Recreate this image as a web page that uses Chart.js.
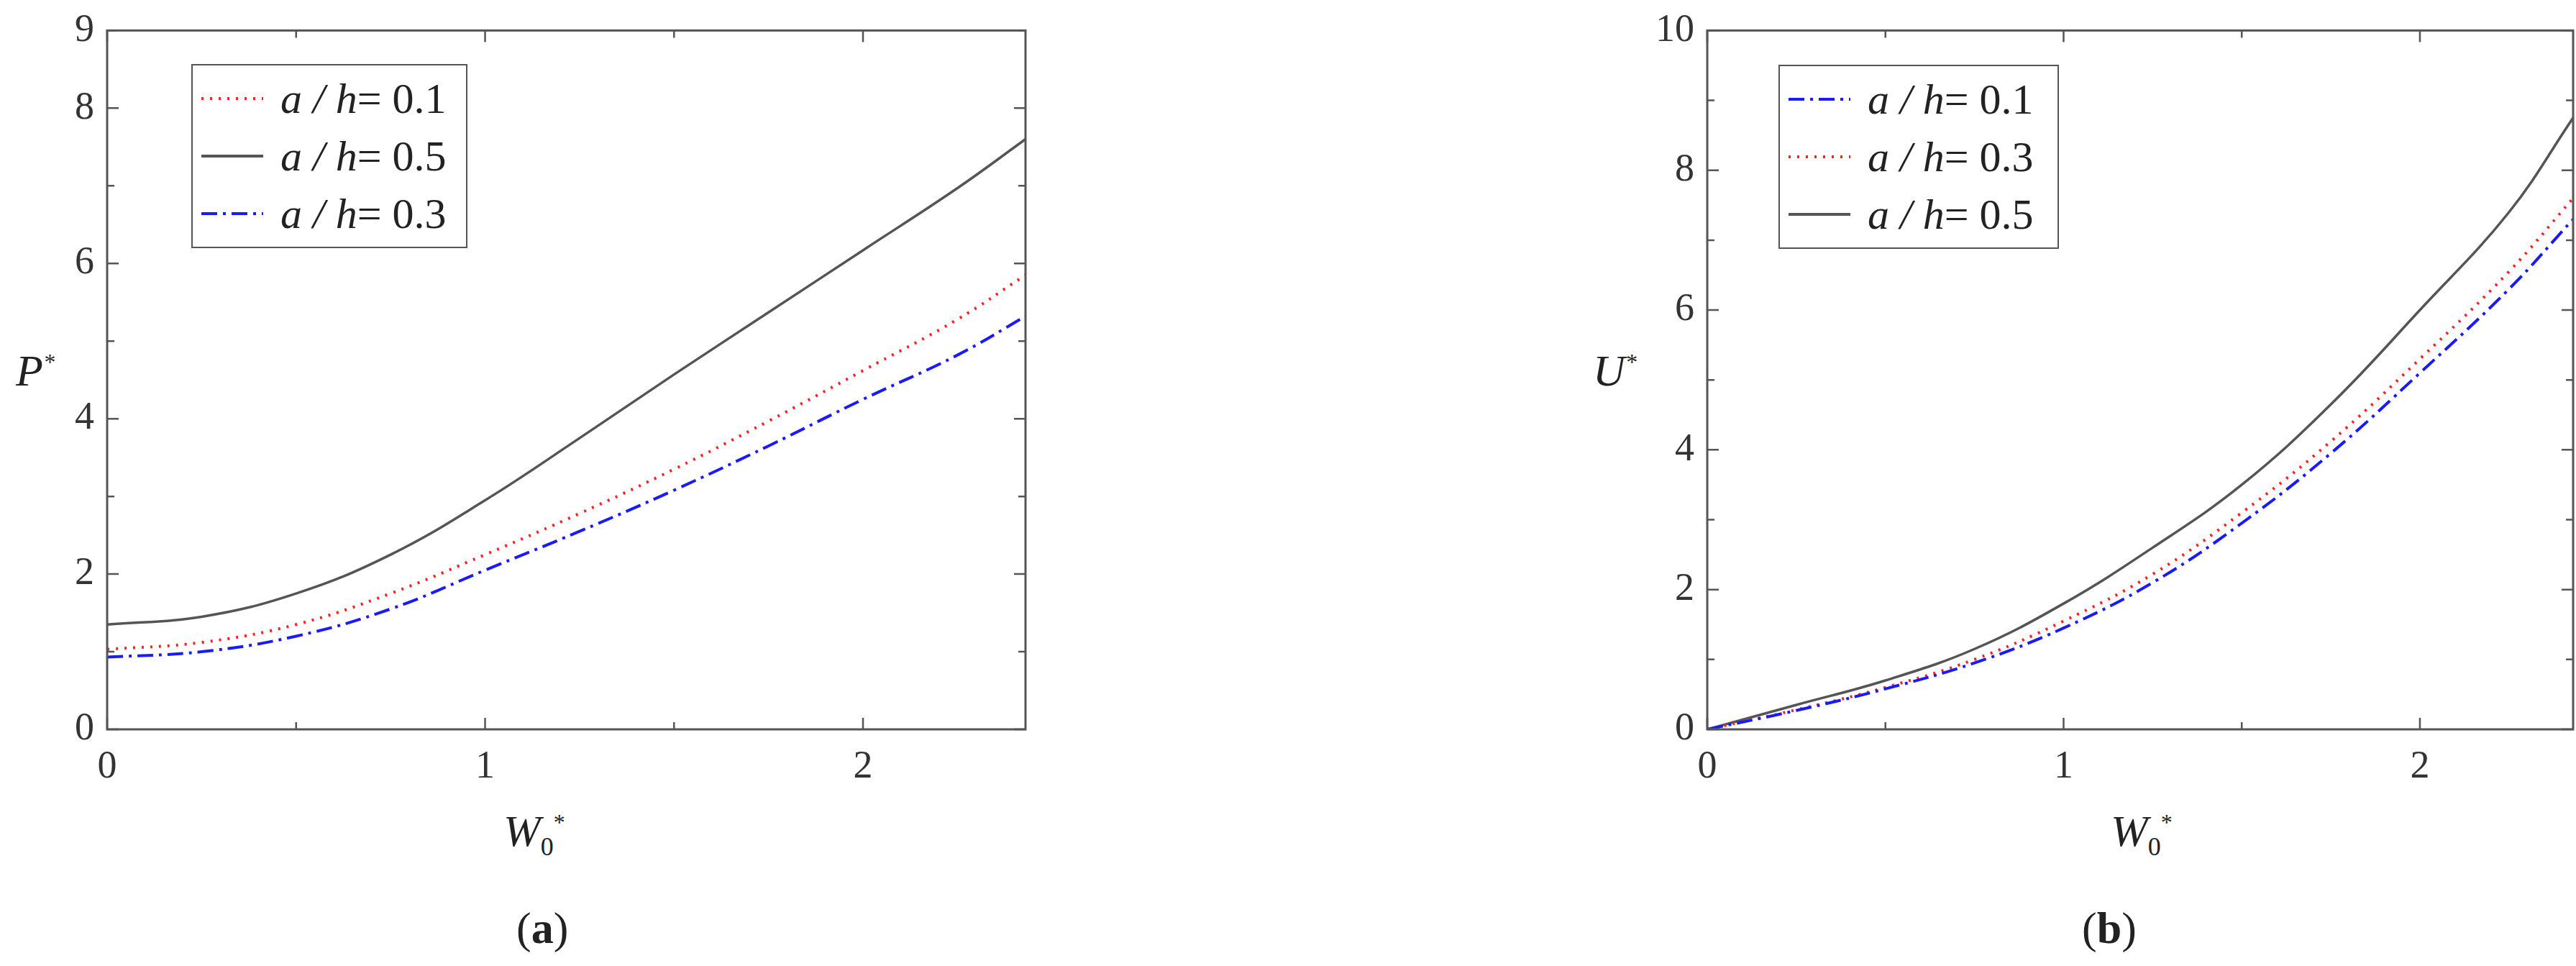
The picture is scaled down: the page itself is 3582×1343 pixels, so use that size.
<!DOCTYPE html>
<html>
<head>
<meta charset="utf-8">
<script src="https://cdn.jsdelivr.net/npm/chart.js@4"></script>
<style>
body { margin:0; width:3582px; height:1343px; background:#fff; position:relative; overflow:hidden; font-family:"Liberation Serif", serif; }
canvas { position:absolute; }
.t { position:absolute; font-family:"Liberation Serif", serif; color:#222; white-space:nowrap; }
.it { font-style:italic; }
.legend { position:absolute; border:2px solid #555; background:#fff; padding:6px 10px; }
.legend div { height:80px; display:flex; align-items:center; font-size:60px; font-style:italic; color:#222; }
.legend svg { margin-right:22px; }
</style>
</head>
<body>
<canvas id="chartA" style="left:60px;top:0;width:1400px;height:1100px"></canvas>
<canvas id="chartB" style="left:2285px;top:0;width:1297px;height:1100px"></canvas>

<div class="t it" style="left:22px;top:480px;font-size:62px">P<sup style="font-size:32px">*</sup></div>
<div class="t it" style="left:700px;top:1120px;font-size:62px">W<sub style="font-size:36px;font-style:normal">0</sub><sup style="font-size:32px;font-style:normal">*</sup></div>
<div class="t" style="left:718px;top:1255px;font-size:62px">(<b>a</b>)</div>

<div class="t it" style="left:2215px;top:480px;font-size:62px">U<sup style="font-size:32px">*</sup></div>
<div class="t it" style="left:2935px;top:1120px;font-size:62px">W<sub style="font-size:36px;font-style:normal">0</sub><sup style="font-size:32px;font-style:normal">*</sup></div>
<div class="t" style="left:2895px;top:1255px;font-size:62px">(<b>b</b>)</div>

<div class="legend" id="legA" style="left:266px;top:89px;width:360px"></div>
<div class="legend" id="legB" style="left:2473px;top:90px;width:366px"></div>

<script>
// W0* sample points (shared)
var w0 = [0, 0.25, 0.5, 0.75, 1.0, 1.25, 1.5, 1.75, 2.0, 2.25, 2.43];

// (a) P* values
var pA01 = [1.03, 1.12, 1.35, 1.75, 2.25, 2.78, 3.35, 3.97, 4.62, 5.28, 5.85];
var pA05 = [1.35, 1.45, 1.75, 2.25, 2.95, 3.75, 4.57, 5.37, 6.17, 6.97, 7.6];
var pA03 = [0.93, 1.0, 1.2, 1.55, 2.05, 2.55, 3.08, 3.65, 4.25, 4.82, 5.32];

// (b) U* values
var uB01 = [0, 0.27, 0.58, 0.95, 1.45, 2.1, 2.95, 3.95, 5.1, 6.3, 7.3];
var uB03 = [0, 0.28, 0.6, 1.0, 1.55, 2.22, 3.1, 4.12, 5.3, 6.55, 7.6];
var uB05 = [0, 0.35, 0.7, 1.15, 1.8, 2.6, 3.5, 4.65, 6.0, 7.4, 8.75];

var RED = '#ff2020', GRAY = '#555555', BLUE = '#1a1aff';
var DOT = [3, 9], DASHDOT = [22, 8, 4, 8];

function pts(ys) { return w0.map(function (x, i) { return { x: x, y: ys[i] }; }); }

function ds(label, ys, color, dash, w) {
    return { label: label, data: pts(ys), borderColor: color, borderDash: dash, borderWidth: w,
             pointRadius: 0, tension: 0.4, fill: false };
}

// inward ticks + frame
var framePlugin = {
    id: 'frame',
    afterDraw: function (chart) {
        var c = chart.ctx, a = chart.chartArea, sx = chart.scales.x, sy = chart.scales.y;
        c.save();
        c.strokeStyle = '#555'; c.lineWidth = 3; c.setLineDash([]);
        c.strokeRect(a.left, a.top, a.right - a.left, a.bottom - a.top);
        c.lineWidth = 2.5;
        for (var v = 0; v <= sx.max + 1e-9; v += 0.5) {
            var x = sx.getPixelForValue(v), L = (v % 1 === 0) ? 16 : 10;
            c.beginPath(); c.moveTo(x, a.bottom); c.lineTo(x, a.bottom - L);
            c.moveTo(x, a.top); c.lineTo(x, a.top + L); c.stroke();
        }
        var st = chart.options.minorY;
        for (var u = 0; u <= sy.max + 1e-9; u += st) {
            var y = sy.getPixelForValue(u), M = (Math.round(u / st) % 2 === 0) ? 16 : 10;
            c.beginPath(); c.moveTo(a.left, y); c.lineTo(a.left + M, y);
            c.moveTo(a.right, y); c.lineTo(a.right - M, y); c.stroke();
        }
        c.restore();
    }
};

function makeChart(id, datasets, ymax, minorY, yw, rightPad) {
    return new Chart(document.getElementById(id), {
        type: 'line',
        data: { datasets: datasets },
        plugins: [framePlugin],
        options: {
            responsive: false, animation: false, minorY: minorY,
            layout: { padding: { top: 33, right: rightPad } },
            plugins: { legend: { display: false }, tooltip: { enabled: false } },
            scales: {
                x: { type: 'linear', min: 0, max: 2.43, border: { display: false },
                     grid: { display: false },
                     afterBuildTicks: function (s) { s.ticks = [{ value: 0 }, { value: 1 }, { value: 2 }]; },
                     afterFit: function (s) { s.height = 86; },
                     ticks: { font: { family: 'Liberation Serif', size: 54 }, color: '#333', padding: 12 } },
                y: { min: 0, max: ymax, border: { display: false }, grid: { display: false },
                     afterFit: function (s) { s.width = yw; },
                     ticks: { stepSize: minorY * 2, font: { family: 'Liberation Serif', size: 54 }, color: '#333', padding: 10 } }
            }
        }
    });
}

function sizeCanvas(id, w, h) { var c = document.getElementById(id); c.width = w; c.height = h; }
sizeCanvas('chartA', 1400, 1100);
sizeCanvas('chartB', 1297, 1100);

// A: chart area x 149..1366, y 33..1014
makeChart('chartA', [
    ds('a / h = 0.1', pA01, RED, DOT, 4),
    ds('a / h = 0.5', pA05, GRAY, [], 3.5),
    ds('a / h = 0.3', pA03, BLUE, DASHDOT, 4)
], 9, 1, 89, 34);

// B: chart area x 2374..3578, y 38..1007
makeChart('chartB', [
    ds('a / h = 0.1', uB01, BLUE, DASHDOT, 4),
    ds('a / h = 0.3', uB03, RED, DOT, 4),
    ds('a / h = 0.5', uB05, GRAY, [], 3.5)
], 10, 1, 89, 4);

function legend(id, items) {
    var el = document.getElementById(id);
    items.forEach(function (it) {
        var d = document.createElement('div');
        d.innerHTML = '<svg width="90" height="20"><line x1="2" y1="10" x2="88" y2="10" stroke="' + it[1] +
            '" stroke-width="4" stroke-dasharray="' + it[2] + '"/></svg>' + 'a / h<span style="font-style:normal"> = ' + it[0] + '</span>';
        el.appendChild(d);
    });
}
legend('legA', [['0.1', RED, '3 9'], ['0.5', GRAY, ''], ['0.3', BLUE, '22 8 4 8']]);
legend('legB', [['0.1', BLUE, '22 8 4 8'], ['0.3', RED, '3 9'], ['0.5', GRAY, '']]);
</script>
</body>
</html>
